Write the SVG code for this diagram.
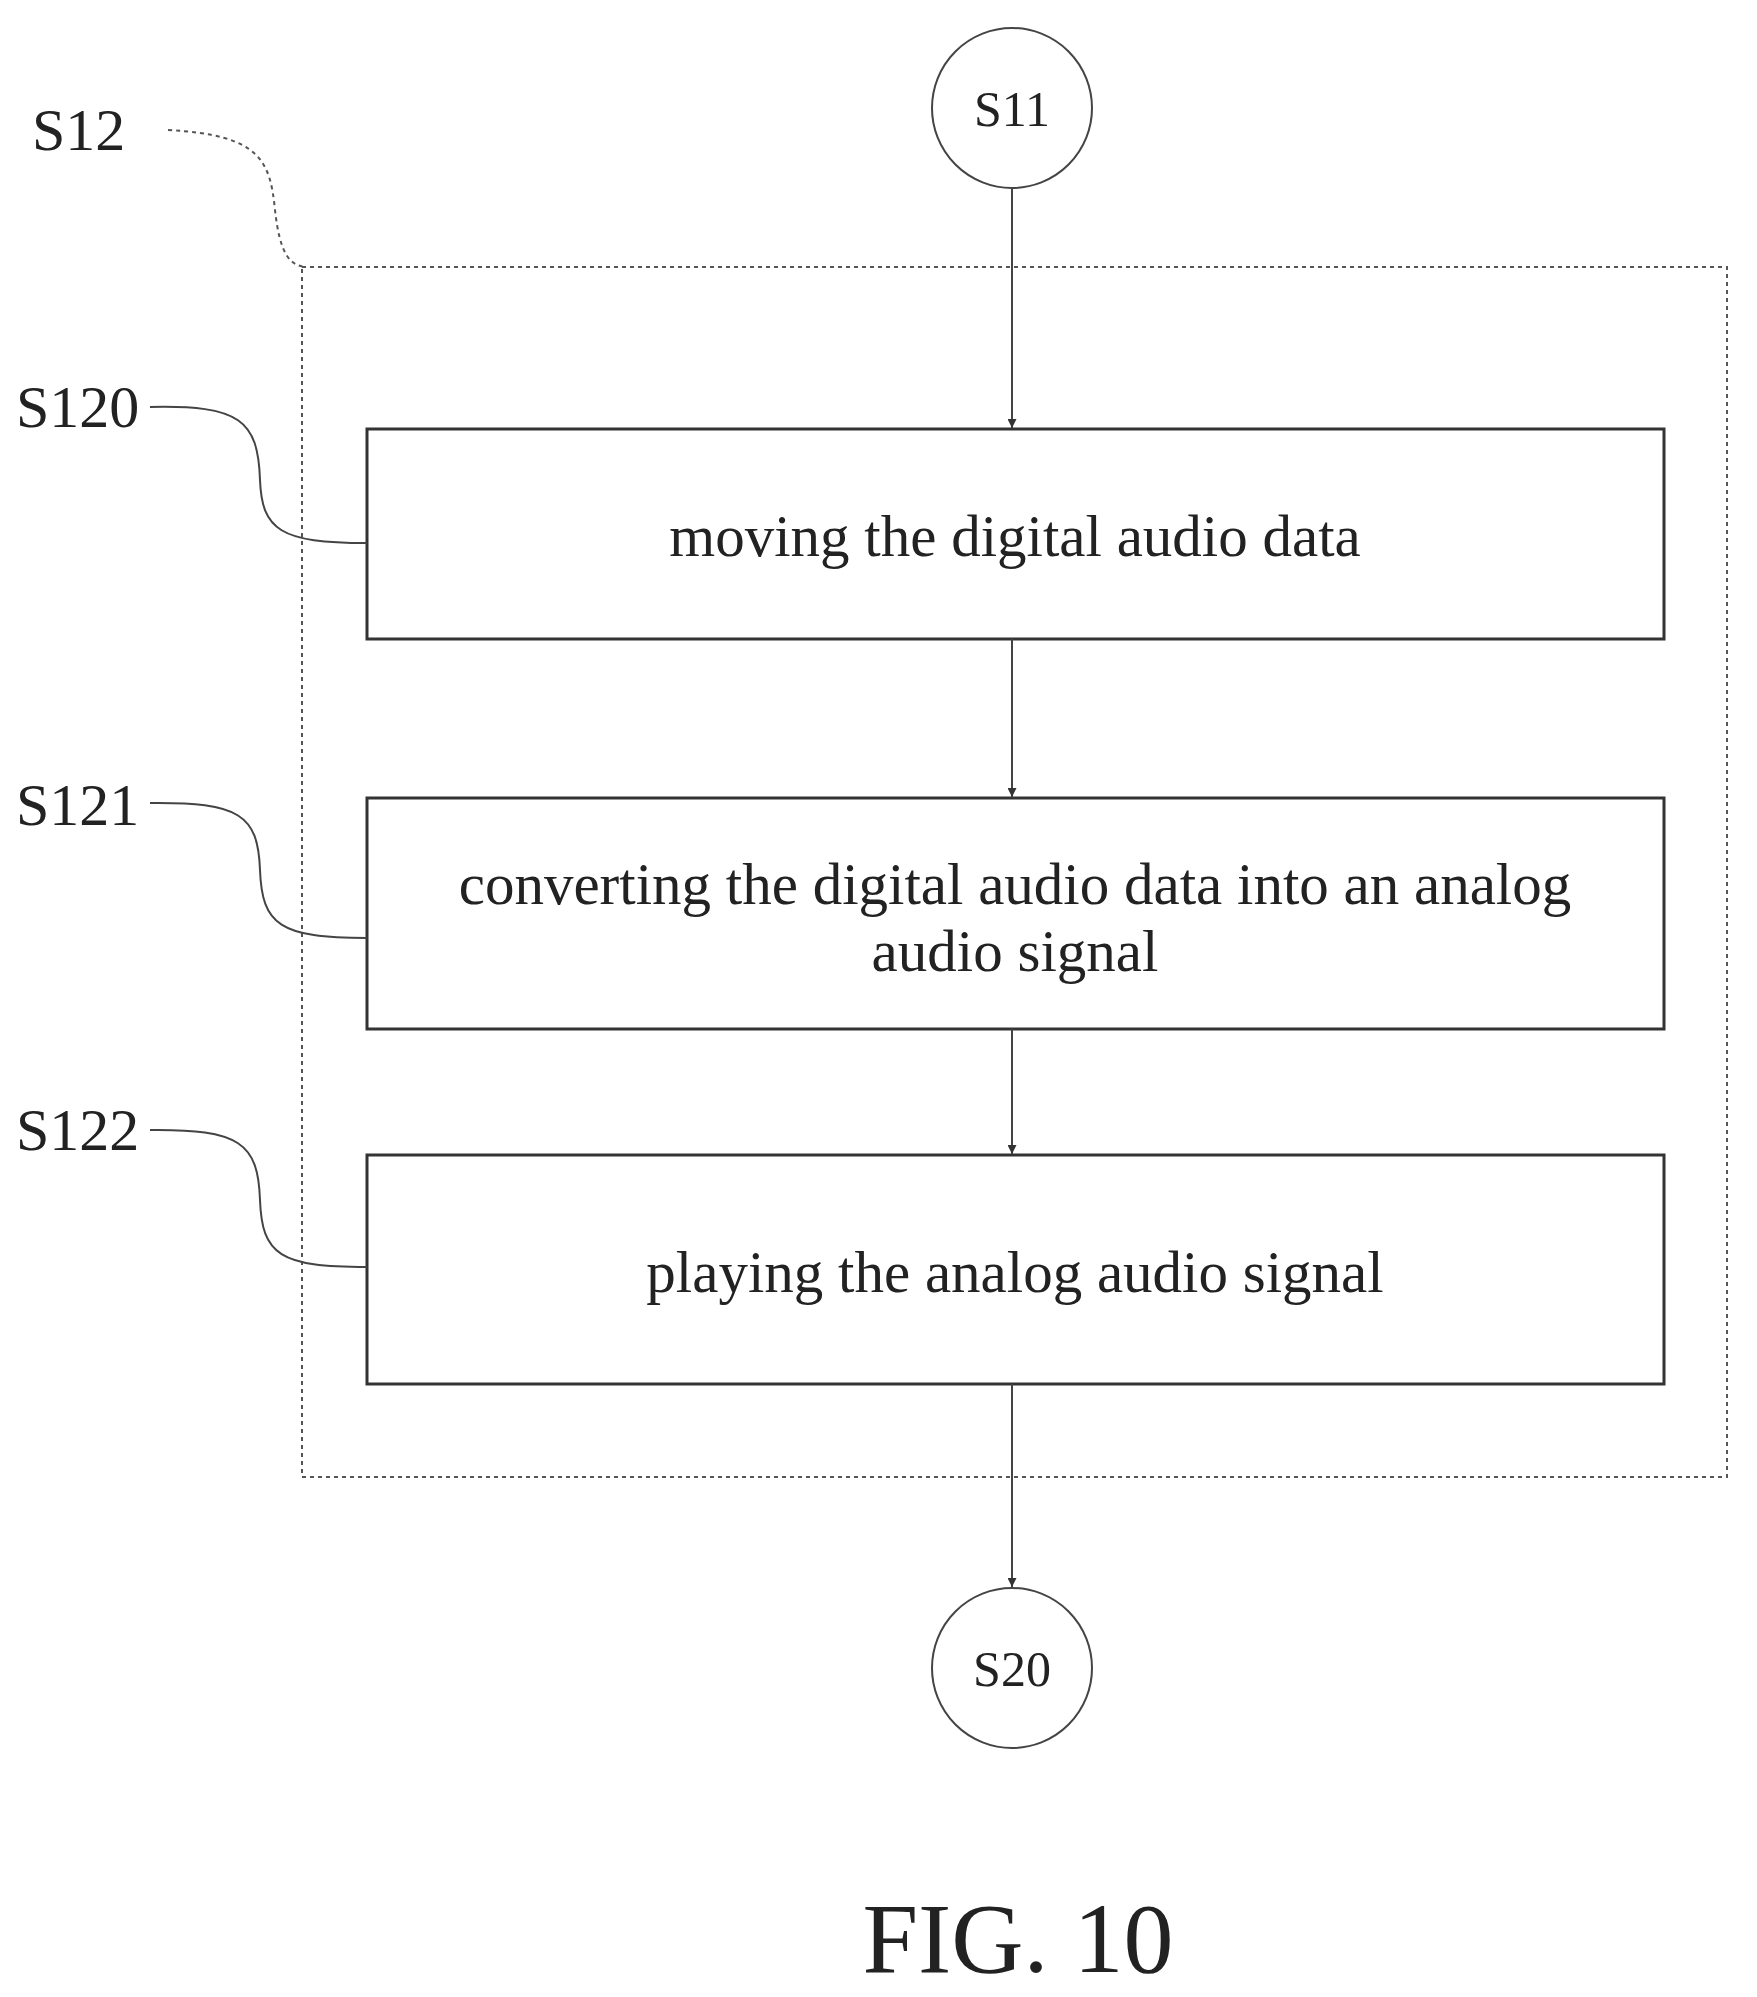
<svg xmlns="http://www.w3.org/2000/svg" width="1757" height="1997" viewBox="0 0 1757 1997">
<defs>
<style>
text{font-family:"Liberation Serif","Times New Roman",serif;fill:#222;text-anchor:middle}
.box{fill:#fff;stroke:#333;stroke-width:3}
.circ{fill:#fff;stroke:#444;stroke-width:2}
.conn{stroke:#444;stroke-width:2;fill:none}
.lead{stroke:#444;stroke-width:2;fill:none}
.lbl{font-size:60px;text-anchor:start}
.t{font-size:59px}
</style>
<marker id="ah" viewBox="0 0 10 10" refX="10" refY="5" markerWidth="9" markerHeight="9" markerUnits="userSpaceOnUse" orient="auto"><path d="M0,0 L10,5 L0,10 z" fill="#333"/></marker>
</defs>
<rect width="1757" height="1997" fill="#fff"/>
<g id="S12">
<rect x="302" y="267" width="1425" height="1210" fill="none" stroke="#555" stroke-width="2" stroke-dasharray="4,4"/>
<text class="lbl" x="32" y="150">S12</text>
<path d="M168,130 C260,135 270,160 275,210 C280,255 290,265 305,267" fill="none" stroke="#555" stroke-width="2" stroke-dasharray="4,4"/>
</g>
<g id="S11"><circle class="circ" cx="1012" cy="108" r="80"/><text x="1012" y="126" font-size="50">S11</text></g>
<g id="S120">
<rect class="box" x="367" y="429" width="1297" height="210"/>
<text class="t" x="1015" y="556">moving the digital audio data</text>
<text class="lbl" x="16" y="427">S120</text>
<path class="lead" d="M150,407 C240,405 258,420 260,480 C262,530 280,543 367,543"/>
</g>
<g id="S121">
<rect class="box" x="367" y="798" width="1297" height="231"/>
<text class="t" x="1015" y="904">converting the digital audio data into an analog</text>
<text class="t" x="1015" y="971">audio signal</text>
<text class="lbl" x="16" y="825">S121</text>
<path class="lead" d="M150,803 C240,802 258,815 260,870 C262,925 280,938 367,938"/>
</g>
<g id="S122">
<rect class="box" x="367" y="1155" width="1297" height="229"/>
<text class="t" x="1015" y="1292">playing the analog audio signal</text>
<text class="lbl" x="16" y="1150">S122</text>
<path class="lead" d="M150,1130 C240,1129 258,1143 260,1200 C262,1255 280,1267 367,1267"/>
</g>
<g id="S20"><circle class="circ" cx="1012" cy="1668" r="80"/><text x="1012" y="1686" font-size="50">S20</text></g>
<g id="connectors">
<line class="conn" x1="1012" y1="188" x2="1012" y2="428" marker-end="url(#ah)"/>
<line class="conn" x1="1012" y1="639" x2="1012" y2="797" marker-end="url(#ah)"/>
<line class="conn" x1="1012" y1="1029" x2="1012" y2="1154" marker-end="url(#ah)"/>
<line class="conn" x1="1012" y1="1384" x2="1012" y2="1587" marker-end="url(#ah)"/>
</g>
<text x="1018" y="1972" font-size="100">FIG. 10</text>
</svg>
